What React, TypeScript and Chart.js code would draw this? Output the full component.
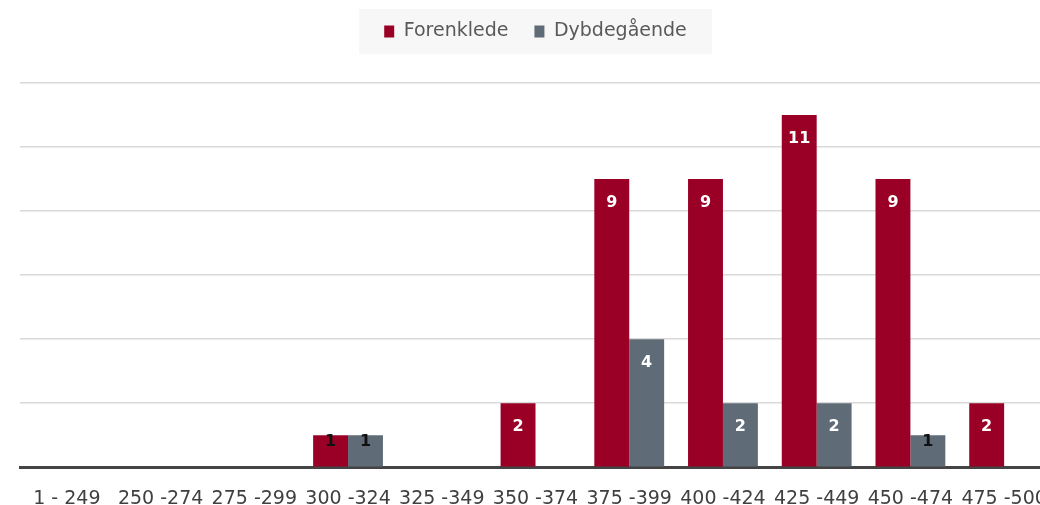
import React, { useEffect, useRef } from "react";
import { Chart, registerables } from "chart.js";

Chart.register(...registerables);

const categories = [
  "1 - 249",
  "250 -274",
  "275 -299",
  "300 -324",
  "325 -349",
  "350 -374",
  "375 -399",
  "400 -424",
  "425 -449",
  "450 -474",
  "475 -500",
];
const forenklede = [0, 0, 0, 1, 0, 2, 9, 9, 11, 9, 2];
const dybdegaende = [0, 0, 0, 1, 0, 0, 4, 2, 2, 1, 0];
const seriesNames = ["Forenklede", "Dybdegående"];
const yMin = 0;
const yMax = 12;
const yStep = 2;

const RED = "#9a0026";
const GRAY = "#5f6b76";

const legendSpace = {
  id: "legendSpace",
  beforeInit(chart: any) {
    const lg = chart.legend;
    if (!lg) return;
    const orig = lg.fit;
    lg.fit = function () {
      orig.call(this);
      this.height += 32;
    };
  },
};

const legendBg = {
  id: "legendBg",
  beforeDraw(chart: any) {
    const lg = chart.legend;
    if (!lg || !lg.legendHitBoxes || !lg.legendHitBoxes.length) return;
    const boxes = lg.legendHitBoxes;
    let l = Infinity, r = -Infinity, t = Infinity, b = -Infinity;
    for (const h of boxes) {
      l = Math.min(l, h.left);
      r = Math.max(r, h.left + h.width);
      t = Math.min(t, h.top);
      b = Math.max(b, h.top + h.height);
    }
    const ctx = chart.ctx;
    ctx.save();
    ctx.fillStyle = "#f7f7f7";
    ctx.fillRect(l - 25, t - 13, r - l + 50, b - t + 26);
    ctx.restore();
  },
};

const barLabels = {
  id: "barLabels",
  afterDatasetsDraw(chart: any) {
    const ctx = chart.ctx;
    ctx.save();
    ctx.font = "bold 16px 'DejaVu Sans'";
    ctx.textAlign = "center";
    ctx.textBaseline = "middle";
    chart.data.datasets.forEach((ds: any, i: number) => {
      const meta = chart.getDatasetMeta(i);
      meta.data.forEach((el: any, j: number) => {
        const v = ds.data[j];
        if (!v) return;
        const small = v < 2;
        ctx.fillStyle = small ? "#111111" : "#ffffff";
        const y = el.y + (small ? 7 : 24);
        ctx.fillText(String(v), el.x, y);
      });
    });
    ctx.restore();
  },
};

export default function App() {
  const ref = useRef<HTMLCanvasElement | null>(null);
  useEffect(() => {
    if (!ref.current) return;
    const chart = new Chart(ref.current, {
      type: "bar",
      data: {
        labels: categories,
        datasets: [
          {
            label: seriesNames[0],
            data: forenklede,
            backgroundColor: RED,
            barPercentage: 1,
            categoryPercentage: 0.745,
          },
          {
            label: seriesNames[1],
            data: dybdegaende,
            backgroundColor: GRAY,
            barPercentage: 1,
            categoryPercentage: 0.745,
          },
        ],
      },
      options: {
        responsive: false,
        animation: false,
        devicePixelRatio: 1,
        layout: { padding: { left: 20, right: 20, top: 0, bottom: 16 } },
        plugins: {
          legend: {
            position: "top",
            labels: {
              boxWidth: 10,
              boxHeight: 12,
              padding: 26,
              color: "#595959",
              font: { family: "'DejaVu Sans'", size: 19 },
            },
          },
          tooltip: { enabled: false },
        },
        scales: {
          x: {
            grid: { display: false, drawTicks: false },
            border: { display: true, color: "#444444", width: 3 },
            ticks: {
              color: "#404040",
              padding: 20,
              maxRotation: 0,
              autoSkip: false,
              font: { family: "'DejaVu Sans'", size: 19 },
            },
          },
          y: {
            min: yMin,
            max: yMax,
            ticks: { display: false, stepSize: yStep },
            grid: { color: "#d9d9d9", lineWidth: 1.5, drawTicks: false },
            border: { display: false },
          },
        },
      },
      plugins: [legendSpace, legendBg, barLabels],
    });
    return () => chart.destroy();
  }, []);
  return (
    <div
      style={{
        position: "fixed",
        left: 0,
        top: 0,
        width: 1040,
        height: 505,
        overflow: "hidden",
        background: "#ffffff",
      }}
    >
      <canvas
        ref={ref}
        width={1071}
        height={550}
        style={{ display: "block", marginTop: -4 }}
      />
    </div>
  );
}
